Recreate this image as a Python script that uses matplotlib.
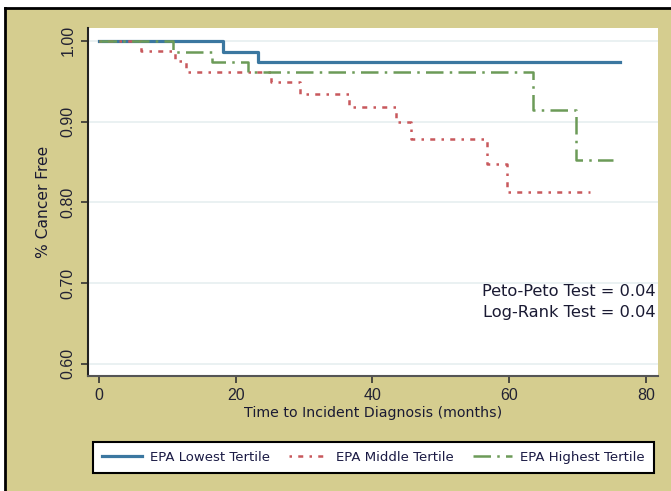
import matplotlib
matplotlib.use("Agg")
import matplotlib.pyplot as plt
from matplotlib.patches import Rectangle
from matplotlib.lines import Line2D

# Data
low_t = [0, 18.2, 23.2, 76.2]
low_s = [1.0, 0.986, 0.974, 0.974]
mid_t = [0, 6.2, 11.1, 12.8, 25.1, 29.4, 36.6, 43.4, 45.6, 56.7, 59.7, 71.8]
mid_s = [1.0, 0.988, 0.975, 0.962, 0.949, 0.934, 0.918, 0.899, 0.879, 0.847, 0.813, 0.813]
high_t = [0, 10.8, 16.6, 21.8, 63.5, 69.7, 75.1]
high_s = [1.0, 0.986, 0.974, 0.962, 0.914, 0.852, 0.852]
series_names = ["EPA Lowest Tertile", "EPA Middle Tertile", "EPA Highest Tertile"]
x_ticks = [0, 20, 40, 60, 80]
y_ticks = [0.60, 0.70, 0.80, 0.90, 1.00]
annotations = ["Peto-Peto Test = 0.04", "Log-Rank Test = 0.04"]

W, H = 671, 491
fig = plt.figure(figsize=(W / 100, H / 100), dpi=100)
fig.patch.set_facecolor("white")
khaki = "#D5CD8F"
x0 = 5 / W
y0 = 1 - 7.5 / H
fig.patches.append(Rectangle((x0, 0), 1 - x0, y0, transform=fig.transFigure,
                             facecolor=khaki, edgecolor="none", zorder=-10))
fig.lines.append(Line2D([x0, x0], [0, y0], transform=fig.transFigure, color="black", lw=2))
fig.lines.append(Line2D([x0, 1], [y0, y0], transform=fig.transFigure, color="black", lw=2))

ax = fig.add_axes([88 / W, 1 - 376 / H, 570 / W, 348 / H])
ax.set_zorder(1)
ax.set_facecolor("white")
ax.set_xlim(-1.6, 81.75)
ax.set_ylim(0.585, 1.016)

for yv in y_ticks:
    ax.axhline(yv, color="#E6EFF0", lw=1.2, zorder=1)

blue = "#3B77A0"
red = "#C8585C"
green = "#6C9B58"
ax.step(low_t, low_s, where="post", color=blue, lw=2.3, label=series_names[0], zorder=3)
ax.step(mid_t, mid_s, where="post", color=red, lw=1.8, dashes=(1.0, 2.5, 2.0, 2.5),
        label=series_names[1], zorder=3)
ax.step(high_t, high_s, where="post", color=green, lw=1.8, dashes=(7, 2.5, 1, 2.5),
        label=series_names[2], zorder=3)

ax.set_xticks(x_ticks)
ax.set_yticks(y_ticks)
ax.set_yticklabels([f"{v:.2f}" for v in y_ticks], rotation=90, va="center")
for lab in ax.get_xticklabels() + ax.get_yticklabels():
    lab.set_fontfamily("Liberation Sans")
    lab.set_fontsize(11.5)
    lab.set_color("#222233")
ax.tick_params(direction="out", length=5, width=1.2, color="#333333", pad=4)

for s in ["top", "right"]:
    ax.spines[s].set_visible(False)
ax.spines["left"].set_color("#222222")
ax.spines["left"].set_linewidth(1.5)
ax.spines["bottom"].set_color("#555555")
ax.spines["bottom"].set_linewidth(1.5)

ax.set_xlabel("Time to Incident Diagnosis (months)", family="DejaVu Sans", size=10.2,
              color="#1a1a33", labelpad=2)
ax.set_ylabel("% Cancer Free", family="DejaVu Sans", size=11.2, color="#1a1a33", labelpad=7)

ax.text(0.995, (1 - 291.7 / H - (1 - 376 / H)) / (348 / H), annotations[0],
        transform=ax.transAxes, ha="right", va="center", family="DejaVu Sans", size=11.7,
        color="#1a1a33")
ax.text(0.995, (1 - 313 / H - (1 - 376 / H)) / (348 / H), annotations[1],
        transform=ax.transAxes, ha="right", va="center", family="DejaVu Sans", size=11.7,
        color="#1a1a33")

leg = fig.legend(loc="lower left", ncol=3, mode="expand",
                 bbox_to_anchor=(93 / W, 1 - 473 / H, (654 - 93) / W, 36 / H),
                 prop={"family": "DejaVu Sans", "size": 9.5}, fancybox=False, shadow=False,
                 frameon=True, edgecolor="black", facecolor="white", framealpha=1,
                 handlelength=3.0, handletextpad=0.6, borderaxespad=0,
                 borderpad=0.7, columnspacing=1.0)
leg.get_frame().set_linewidth(1.5)
for t in leg.get_texts():
    t.set_color("#1a1a44")

fig.savefig("out.png", dpi=100, facecolor=fig.get_facecolor())
